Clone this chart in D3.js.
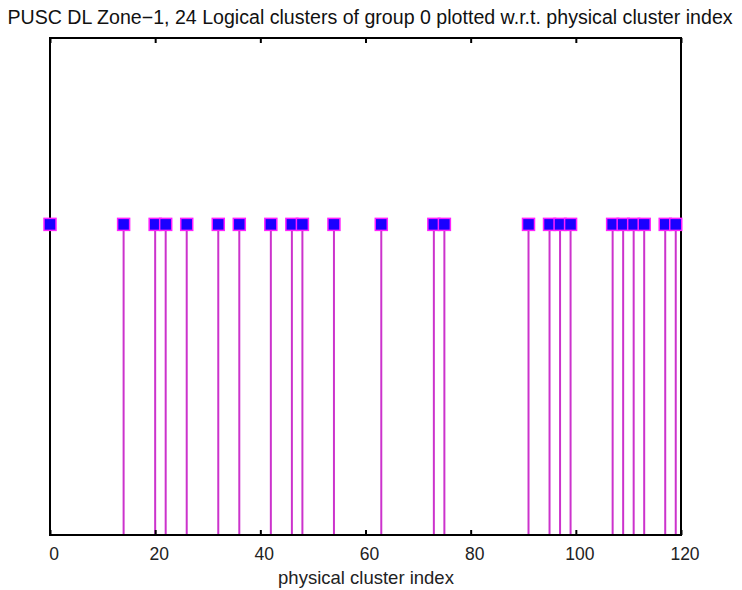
<!DOCTYPE html>
<html>
<head>
<meta charset="utf-8">
<script src="https://cdn.jsdelivr.net/npm/d3@7"></script>
<style>
  html, body { margin: 0; padding: 0; background: #fff; }
  svg { display: block; font-family: "Liberation Sans", Arial, Helvetica, sans-serif; }
</style>
</head>
<body>
<svg id="chart" width="742" height="590"></svg>
<script>
// Physical cluster indices occupied by the 24 logical clusters of group 0
const clusterIndex = [0, 14, 20, 22, 26, 32, 36, 42, 46, 48, 54, 63,
                      73, 75, 91, 95, 97, 99, 107, 109, 111, 113, 117, 119];
const stemValue = clusterIndex.map(() => 1);
const xTicks = [0, 20, 40, 60, 80, 100, 120];
const titleText = "PUSC DL Zone\u22121, 24 Logical clusters of group 0 plotted w.r.t. physical cluster index";
const xLabel = "physical cluster index";

const svg = d3.select("#chart");
const m = { left: 50, right: 61, top: 38, bottom: 55 };
const W = 742, H = 590;

const x = d3.scaleLinear().domain([0, 120]).range([m.left, W - m.right]);
const y = d3.scaleLinear().domain([0, 1.6]).range([H - m.bottom, m.top]);

// title
svg.append("text")
  .attr("x", 370).attr("y", 24)
  .attr("text-anchor", "middle")
  .attr("font-size", 19.6)
  .attr("fill", "#111")
  .text(titleText);

// stems
const stemColor = "#cc33cc";
svg.append("g").selectAll("line")
  .data(clusterIndex)
  .join("line")
  .attr("x1", d => x(d)).attr("x2", d => x(d))
  .attr("y1", y(0)).attr("y2", (d, i) => y(stemValue[i]))
  .attr("stroke", stemColor)
  .attr("stroke-width", 2);

// axes box with inward ticks on top and bottom
const bottomAxis = d3.axisBottom(x).tickValues(xTicks).tickSizeInner(-5).tickSizeOuter(0).tickPadding(13);
const gb = svg.append("g").attr("transform", `translate(0,${y(0)})`).call(bottomAxis);
gb.select(".domain").remove();
gb.selectAll("line").attr("stroke", "#000").attr("stroke-width", 2);
gb.selectAll("text").attr("font-size", 17.5).attr("fill", "#222").attr("dx", 3.5)
  .attr("font-family", "'Liberation Sans', Arial, sans-serif");

const topAxis = d3.axisTop(x).tickValues(xTicks).tickSizeInner(-5).tickSizeOuter(0).tickFormat("");
const gt = svg.append("g").attr("transform", `translate(0,${y(1.6)})`).call(topAxis);
gt.select(".domain").remove();
gt.selectAll("line").attr("stroke", "#000").attr("stroke-width", 2);

svg.append("rect")
  .attr("x", x(0)).attr("y", y(1.6))
  .attr("width", x(120) - x(0)).attr("height", y(0) - y(1.6))
  .attr("fill", "none").attr("stroke", "#000").attr("stroke-width", 2);

// markers
const s = 12;
svg.append("g").selectAll("rect")
  .data(clusterIndex)
  .join("rect")
  .attr("x", d => x(d) - s / 2)
  .attr("y", (d, i) => y(stemValue[i]) - s / 2)
  .attr("width", s).attr("height", s)
  .attr("fill", "#1a00ff")
  .attr("stroke", "#ff22ff")
  .attr("stroke-width", 1.5);

// x label
svg.append("text")
  .attr("x", 366).attr("y", 584)
  .attr("text-anchor", "middle")
  .attr("font-size", 18.5)
  .attr("fill", "#222")
  .text(xLabel);
</script>
</body>
</html>
